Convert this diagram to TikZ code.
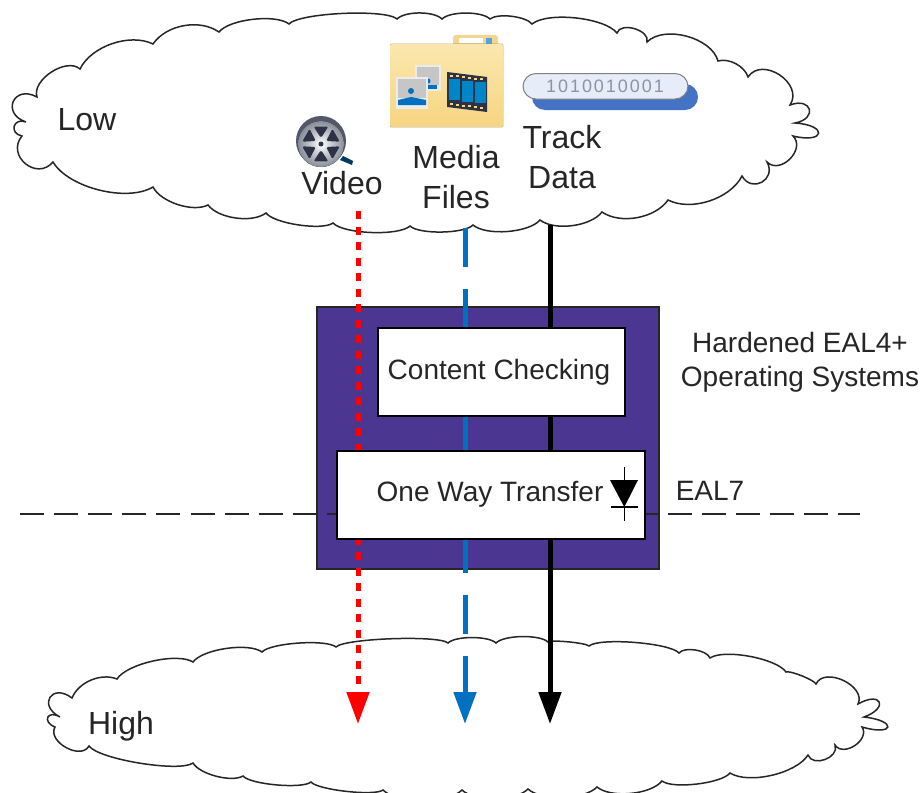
\documentclass[tikz,border=0pt]{standalone}
\usepackage{fontspec}
\setmainfont{Liberation Sans}
\newfontfamily\bitfont[LetterSpace=11]{Liberation Sans}
\usetikzlibrary{arrows.meta}
\definecolor{boxpurple}{HTML}{4B3692}
\definecolor{flowblue}{HTML}{0070C0}
\definecolor{inkgray}{HTML}{262626}
\definecolor{pillblue}{HTML}{4472C4}
\definecolor{pillface}{HTML}{E6EDF8}
\definecolor{pilltext}{HTML}{8A94A6}
\definecolor{foldertop}{HTML}{FBE7AE}
\definecolor{folderlow}{HTML}{F6D581}
\definecolor{folderedge}{HTML}{F3D58E}
\definecolor{reelgray}{HTML}{A9B0BC}
\definecolor{reeldark}{HTML}{2D3247}
\tikzset{cloudline/.style={draw=inkgray,fill=white,line width=1.5pt},
	flow/.style={draw=#1,line width=5pt,-{Triangle[width=22pt,length=32pt,fill=#1]}},flow/.default={black},
	label/.style={text=inkgray,font=\fontsize{#1}{#1}\selectfont,align=center},label/.default={32pt},
	lblock/.style={text=inkgray,font=\fontsize{32pt}{40pt}\selectfont,align=center},
	sblock/.style={text=inkgray,font=\fontsize{28pt}{34pt}\selectfont,align=center},
	whitebox/.style={draw=black,fill=white,line width=1.5pt,anchor=north west,inner sep=0pt}}

\begin{document}
\begin{tikzpicture}[x=1pt,y=-1pt]
\useasboundingbox (0,0) rectangle (923,792);
\clip (0,0) rectangle (923,792);
% clouds
\draw [cloudline] (26,122)
	\foreach \cx/\cy/\bd/\lo in {37/97/95/2.5,80/69/75/.9,153/44/45/.85,219/32/45/.9,289/24/45/.6,397/19/45/.36,
		442/19/45/.65,490/19/45/.6,532/24/45/.6,617/33/45/.6,647/42/90/1,718/61/60/.85,748/77/45/.85,
		790/105/90/1.3,795/123/95/3.2,793/136/95/6.5,767/162/90/1.3,742/176/90/1.8,668/200/45/.85,
		602/212/45/.85,540/220/45/.75,473/225/45/.65,410/226/45/.5,333/223/45/.5,266/213/45/.5,
		208/205/45/.75,153/187/45/.75,53/162/45/.75,22/136/90/1.6,26/122/95/2.4}
	{ to [bend left=\bd,looseness=\lo] (\cx,\cy) } -- cycle;
\draw [cloudline] (60,717)
	\foreach \cx/\cy/\bd/\lo in {72/698/95/2.9,117/679/45/.9,193/662/45/.6,262/652/45/.6,336/647/45/.42,
		448/643/45/.27,496/643/45/.55,548/642/45/.55,589/646/45/.25,679/653/45/.38,710/658/60/.7,786/672/45/.55,
		816/684/45/.35,858/704/90/1.1,864/717/95/4.8,862/727/95/8.5,835/745/90/1.2,808/755/90/1.2,
		730/773/45/.7,662/781/45/.5,597/787/45/.7,528/789/45/.65,462/790/45/.65,383/790/45/.65,311/782/45/.36,
		243/776/45/.42,193/763/45/.65,89/746/45/.4,55/727/90/1.1,60/717/95/3.3}
	{ to [bend left=\bd,looseness=\lo] (\cx,\cy) } -- cycle;
\node [label] (low) at (87,120) {Low};
\node [label] (high) at (121,726) {High};
% folder icon
\fill [folderedge,rounded corners=3pt] (453,35) rectangle (498,52);
\fill [white] (459,38) rectangle (483,43);
\fill [cyan!70!blue!70] (486,38) rectangle (492,44);
\fill [top color=foldertop,bottom color=folderlow,rounded corners=1pt] (390,44) rectangle (503,127);
\fill [white!85!gray] (415,65) rectangle (441,91);
\fill [gray!45] (417,67) rectangle (439,85);
\fill [flowblue] (419,89) -- (419,85) -- (437,85) -- (437,89) -- cycle;
\fill [flowblue] (428,81) circle (2.500pt);
\fill [white!85!gray] (396,77) rectangle (428,109);
\fill [gray!45] (398,79) rectangle (426,98);
\fill [flowblue] (398,105) -- (398,100) -- (411,97) -- (426,100) -- (426,105) -- cycle;
\fill [flowblue] (411,91) circle (3pt);
\fill [reeldark] (447,72) -- (487,77) -- (487,112) -- (447,107) -- cycle;
\foreach \fx in {449,462,475}
	\fill [flowblue!85!cyan] (\fx,{79+(\fx-449)*.12}) rectangle ++(11,21);
\foreach \fx in {450,456,...,484} {
	\fill [folderlow] (\fx,{74.500+(\fx-449)*.12}) rectangle ++(3,2);
	\fill [folderlow] (\fx,{103+(\fx-449)*.12}) rectangle ++(3,2);
}
% track data icon
\fill [pillblue,rounded corners=13pt] (532,84) rectangle (698,110);
\draw [draw=gray,fill=pillface,line width=1pt,rounded corners=13pt] (523,73.500) rectangle (688,99);
\node [text=pilltext,font=\bitfont\fontsize{18pt}{18pt}\selectfont] (bits) at (605,86) {1010010001};
% video icon
\fill [flowblue!50!black] (343,156) -- (353,161) -- (352,165) -- (340,160) -- cycle;
\fill [reeldark!70!reelgray] (321,141) circle (25pt);
\fill [inner color=white,outer color=reelgray!80!black] (321,144) circle (23pt);
\begin{scope}[shift={(321,144)}]
\foreach \ang in {30,90,150,210,270,330}
	\fill [reeldark,rounded corners=1.500pt] (\ang:6) -- (\ang-23:19) -- (\ang+23:19) -- cycle;
\fill [reeldark] (0,0) circle (2.500pt);
\end{scope}
% labels of the sources
\node [label] (video) at (342,183) {Video};
\node [lblock] (media) at (456,177) {Media\\Files};
\node [lblock] (track) at (562,157) {Track\\Data};
% the purple guard box
\node [draw=inkgray,fill=boxpurple,line width=1.5pt,anchor=north west,inner sep=0pt,minimum width=342pt,minimum height=262pt] (guard) at (316,306) {};
\coordinate (levelw) at (20,514);
\coordinate (levele) at (860,514);
\draw [inkgray,line width=2.5pt,dash pattern=on 24pt off 10.100pt] (levelw) -- (levele);
% flows
\coordinate (videofrom) at (358,211);
\coordinate (videoto) at (358,724);
\coordinate (mediafrom) at (465,228);
\coordinate (mediato) at (465,724);
\coordinate (trackfrom) at (550,225);
\coordinate (trackto) at (550,724);
\draw [flow=red,dash pattern=on 8pt off 7.500pt] (videofrom) -- (videoto);
\draw [flow=flowblue,dash pattern=on 39pt off 22.100pt] (mediafrom) -- (mediato);
\draw [flow] (trackfrom) -- (trackto);
% boxes on top of the flows
\node [whitebox,minimum width=247pt,minimum height=88pt] (checking) at (377,327) {};
\node [whitebox,minimum width=308pt,minimum height=88pt] (transfer) at (336,450) {};
\node [label=28pt] (checkingtext) at (499,372) {Content Checking};
\node [label=28pt] (transfertext) at (490,494) {One Way Transfer};
% diode
\draw [black,line width=1.300pt] (624.300,467) -- (624.300,521);
\draw [black,line width=1.300pt] (611,507) -- (638,507);
\fill [black] (610,480) -- (638,480) -- (624.300,507) -- cycle;
\node [sblock] (hardened) at (800,362) {Hardened EAL4+\\Operating Systems};
\node [label=28pt] (eal) at (710,491) {EAL7};
\end{tikzpicture}
\end{document}
